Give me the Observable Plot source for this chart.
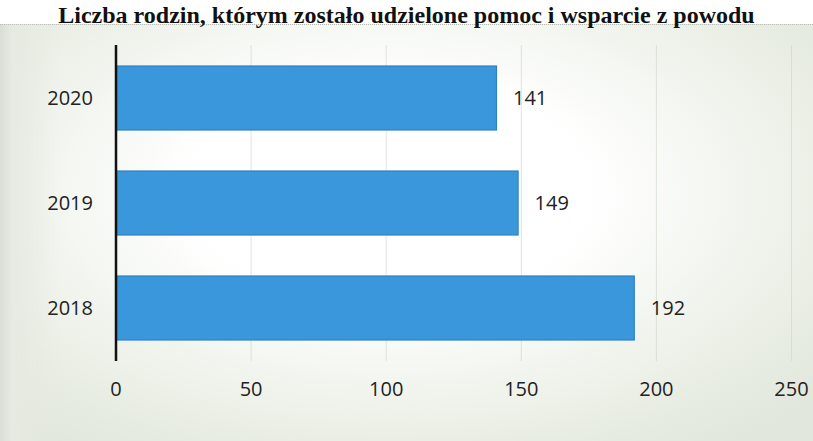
<!DOCTYPE html>
<html>
<head>
<meta charset="utf-8">
<script src="https://cdn.jsdelivr.net/npm/d3@7"></script>
<script src="https://cdn.jsdelivr.net/npm/@observablehq/plot@0.6"></script>
<style>
  html, body { margin: 0; padding: 0; background: #ffffff; width: 813px; height: 441px; overflow: hidden; }
  #title {
    position: absolute; left: 0; top: 2px; width: 813px; z-index: 2; text-align: center;
    font-family: "Liberation Serif", "DejaVu Serif", serif; font-weight: bold; font-size: 24px;
    line-height: 26px; color: #111; white-space: nowrap;
  }
  #paper {
    position: absolute; left: 0; top: 24px; width: 813px; height: 417px;
    background:
      linear-gradient(to right, #d9ddd5 0px, #e6eae2 12px, rgba(255,255,255,0) 60px),
      radial-gradient(ellipse 70% 75% at 48% 40%, #ffffff 35%, #eef2ea 70%, #e1e7dc 100%);
    border-top: 1px dotted #b9bdb6;
  }
  svg { display: block; }
</style>
</head>
<body>
<div id="paper"></div>
<div id="title">Liczba rodzin, którym zostało udzielone pomoc i wsparcie z powodu</div>
<script>
const years = ["2020", "2019", "2018"];
const values = [141, 149, 192];
const xTicks = [0, 50, 100, 150, 200, 250];

const data = years.map((y, i) => ({year: y, value: values[i]}));

const chart = Plot.plot({
  width: 813,
  height: 416,
  marginLeft: 115.5,
  marginRight: 22,
  marginTop: 20,
  marginBottom: 80,
  style: {background: "transparent", fontFamily: "'Open Sans', sans-serif", fontSize: "20px", color: "#222"},
  x: {domain: [0, 250], ticks: xTicks},
  y: {domain: years, paddingInner: 0.39, paddingOuter: 0.195},
  marks: [
    Plot.gridX(xTicks.filter(d => d > 0), {stroke: "#ccd3c7", strokeOpacity: 0.6, strokeWidth: 1}),
    Plot.barX(data, {x: "value", y: "year", fill: "#3b97dc", stroke: "#2f80c2", strokeWidth: 1.2, insetLeft: 1}),
    Plot.text(data, {x: "value", y: "year", text: d => String(d.value), dx: 16, textAnchor: "start", fontSize: 20, fill: "#222"}),
    Plot.ruleX([0], {stroke: "#111", strokeWidth: 2.5}),
    Plot.axisX({ticks: xTicks, tickSize: 0, tickPadding: 20, fontSize: 20, label: null, fill: "#222"}),
    Plot.axisY({tickSize: 0, tickPadding: 23, fontSize: 20, label: null, fill: "#222"})
  ]
});
document.getElementById("paper").appendChild(chart);
</script>
</body>
</html>
